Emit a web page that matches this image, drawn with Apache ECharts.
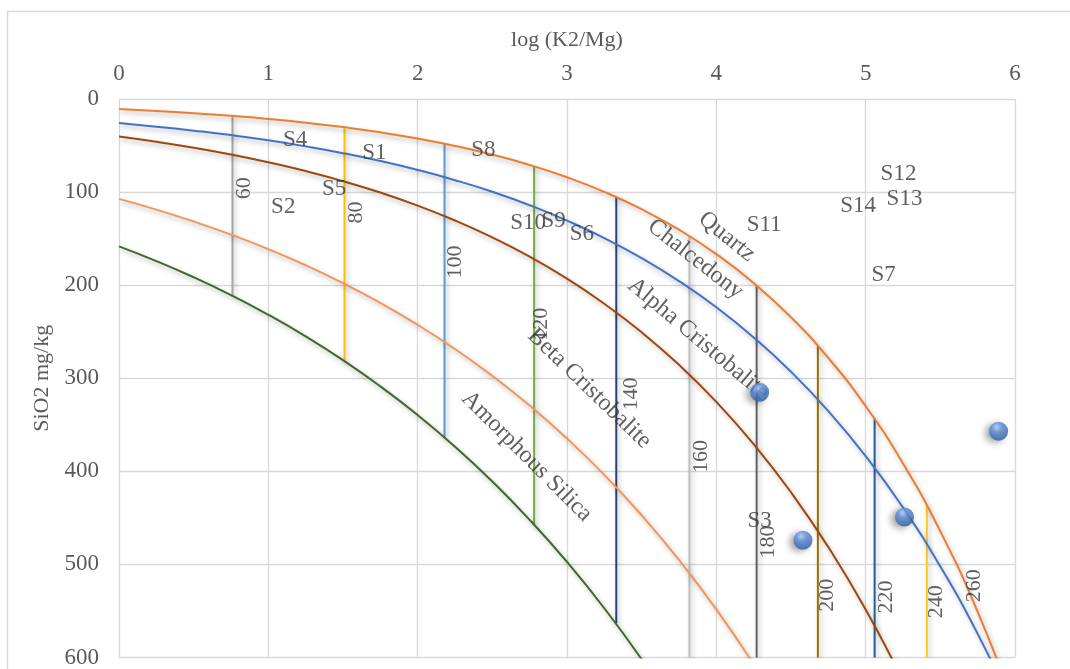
<!DOCTYPE html>
<html>
<head>
<meta charset="utf-8">
<title>SiO2 - K2/Mg</title>
<script src="https://cdn.jsdelivr.net/npm/echarts/dist/echarts.min.js"></script>
<style>
	html, body { margin: 0; padding: 0; background: #fff; }
	#main { width: 1070px; height: 669px; }
</style>
</head>
<body>
<div id="main"></div>
<script>
	// x steps log(K2/Mg) for the silica curves
	var xSteps = [ 0, 0.25, 0.5, 0.75, 1, 1.25, 1.5, 1.75, 2, 2.25, 2.5, 2.75, 3, 3.25, 3.5, 3.75, 4, 4.25, 4.5, 4.75, 5, 5.25, 5.5, 5.75, 6 ];
	// SiO2 mg/kg
	var quartzY = [ 10.8, 12.8, 15.2, 18.1, 21.4, 25.4, 30.2, 35.8, 42.5, 50.4, 59.8, 70.9, 84.1, 99.8, 118.4, 140.4,
			166.6, 197.7, 234.5, 278.2, 330.0, 391.5, 464.5, 551.0, 653.7 ];
	var chalcedonyY = [ 25.9, 29.7, 34.0, 38.8, 44.4, 50.9, 58.2, 66.6, 76.2, 87.2, 99.7, 114.1, 130.6, 149.4, 170.9,
			195.6, 223.8, 256.1, 293.0, 335.3, 383.6, 438.9, 502.2, 574.6, 657.5 ];
	var alphaCristY = [ 40.3, 45.9, 52.3, 59.6, 68.0, 77.4, 88.2, 100.5, 114.5, 130.5, 148.7, 169.4, 193.0, 220.0,
			250.6, 285.6, 325.4, 370.8, 422.5, 481.4, 548.5, 625.0 ];
	var betaCristY = [ 107.3, 118.8, 131.6, 145.7, 161.3, 178.6, 197.8, 219.0, 242.6, 268.6, 297.4, 329.3, 364.7,
			403.8, 447.2, 495.1, 548.3, 607.2 ];
	var amorphousY = [ 158.3, 174.1, 191.5, 210.7, 231.8, 255.0, 280.5, 308.7, 339.5, 373.5, 410.9, 452.1, 497.3,
			547.1, 601.9 ];

	var curveNames = [ 'Quartz', 'Chalcedony', 'Alpha Cristobalite', 'Beta Cristobalite', 'Amorphous Silica' ];
	var curveLabelX = [ 4.07, 3.86, 3.88, 3.15, 2.73 ];
	var curveLabelY = [ 148, 172, 258, 311, 384 ];

	// isotherms (deg C)
	var isoTemps = [ '60', '80', '100', '120', '140', '160', '180', '200', '220', '240', '260' ];
	var isoX = [ 0.76, 1.51, 2.18, 2.78, 3.33, 3.82, 4.27, 4.68, 5.06, 5.41, 5.73 ];
	var isoTop = [ 18, 30, 48, 72, 105, 147, 200, 265, 343, 436, 543 ];
	var isoBottom = [ 212, 282, 364, 458, 563, 600, 600, 600, 600, 600, null ];
	var isoLabelX = [ 0.84, 1.59, 2.25, 2.83, 3.43, 3.90, 4.35, 4.74, 5.14, 5.47, 5.73 ];
	var isoLabelY = [ 96, 122, 175, 242, 317, 384, 476, 533, 535, 540, 523 ];

	// samples
	var sampleNames = [ 'S1', 'S2', 'S3', 'S4', 'S5', 'S6', 'S7', 'S8', 'S9', 'S10', 'S11', 'S12', 'S13', 'S14' ];
	var sampleX = [ 1.71, 1.10, 4.29, 1.18, 1.44, 3.10, 5.12, 2.44, 2.91, 2.74, 4.32, 5.22, 5.26, 4.95 ];
	var sampleY = [ 58, 116, 453, 44, 97, 145, 189, 55, 131, 133, 135, 80, 107, 115 ];

	// plotted points
	var pointX = [ 4.29, 4.58, 5.26, 5.89 ];
	var pointY = [ 315, 474, 449, 357 ];

	var serifFont = "'Liberation Serif', 'Times New Roman', serif";
	var textColor = '#383838';
	var curveColors = [ '#ED7D31', '#4472C4', '#9E480E', '#F1975A', '#43682B' ];
	var curveRotate = [ -39, -38, -40, -44, -45 ];
	var isoColors = [ '#A5A5A5', '#FFC000', '#5B9BD5', '#70AD47', '#264478', '#BFBFBF', '#636363', '#997300', '#255E91', '#FFC926', '#ED7D31' ];

	function toPairs(xs, ys) {
		var arr = [];
		for ( var i = 0; i < ys.length; i++) {
			arr.push([ xs[i], ys[i] ]);
		}
		return arr;
	}

	// 只放文字的散点系列
	function textSeries(items, fontSize, rotate, z) {
		return {
			type : 'scatter',
			symbolSize : 1,
			itemStyle : { color : 'rgba(0,0,0,0)' },
			label : {
				show : true,
				position : 'inside',
				rotate : rotate,
				color : textColor,
				fontFamily : serifFont,
				fontSize : fontSize,
				formatter : function(p) { return p.name; }
			},
			data : items,
			z : z
		};
	}

	var myChart = echarts.init(document.getElementById('main'));

	var series = [];
	var curveData = [ quartzY, chalcedonyY, alphaCristY, betaCristY, amorphousY ];
	for ( var c = 0; c < curveData.length; c++) {
		series.push({
			name : curveNames[c],
			type : 'line',
			smooth : true,
			showSymbol : false,
			data : toPairs(xSteps, curveData[c]),
			lineStyle : {
				color : curveColors[c],
				width : 2,
				shadowColor : 'rgba(0,0,0,0.3)',
				shadowBlur : 5,
				shadowOffsetX : 2,
				shadowOffsetY : 3
			},
			z : 3
		});
	}

	// vertical isotherm lines
	for ( var i = 0; i < isoTemps.length; i++) {
		if (isoBottom[i] == null) {
			continue;
		}
		series.push({
			name : isoTemps[i],
			type : 'line',
			showSymbol : false,
			data : [ [ isoX[i], isoTop[i] ], [ isoX[i], isoBottom[i] ] ],
			lineStyle : {
				color : isoColors[i],
				width : 2,
				shadowColor : 'rgba(0,0,0,0.25)',
				shadowBlur : 5,
				shadowOffsetX : 2,
				shadowOffsetY : 2
			},
			z : 2
		});
	}

	// isotherm labels
	series.push(textSeries((function() {
		var a = [];
		for ( var j = 0; j < isoTemps.length; j++) {
			a.push({ name : isoTemps[j], value : [ isoLabelX[j], isoLabelY[j] ] });
		}
		return a;
	})(), 22, 90, 5));

	// curve names along the curves
	series.push(textSeries((function() {
		var a = [];
		for ( var j = 0; j < curveNames.length; j++) {
			a.push({
				name : curveNames[j],
				value : [ curveLabelX[j], curveLabelY[j] ],
				label : { rotate : curveRotate[j] }
			});
		}
		return a;
	})(), 24, 0, 5));

	// sample names
	series.push(textSeries((function() {
		var a = [];
		for ( var j = 0; j < sampleNames.length; j++) {
			a.push({ name : sampleNames[j], value : [ sampleX[j], sampleY[j] ] });
		}
		return a;
	})(), 23, 0, 6));

	// blue balls
	series.push({
		type : 'scatter',
		symbol : 'circle',
		symbolSize : 19,
		data : toPairs(pointX, pointY),
		itemStyle : {
			color : new echarts.graphic.RadialGradient(0.4, 0.3, 0.75, [
				{ offset : 0, color : '#b8d0f5' },
				{ offset : 0.35, color : '#5b8fdc' },
				{ offset : 1, color : '#2a5699' }
			]),
			shadowColor : 'rgba(0,0,0,0.45)',
			shadowBlur : 7,
			shadowOffsetX : -4,
			shadowOffsetY : 2
		},
		z : 7
	});

	var option = {
		animation : false,
		backgroundColor : '#fff',
		graphic : [ {
			type : 'rect',
			shape : { x : 7.5, y : 11.5, width : 1100, height : 700 },
			style : { fill : 'none', stroke : '#D9D9D9', lineWidth : 1.5 },
			silent : true
		} ],
		grid : {
			left : 119,
			top : 99,
			right : 55,
			bottom : 10
		},
		xAxis : {
			type : 'value',
			position : 'top',
			min : 0,
			max : 6,
			interval : 1,
			name : 'log (K2/Mg)',
			nameLocation : 'middle',
			nameGap : 48,
			nameTextStyle : { color : '#595959', fontFamily : serifFont, fontSize : 22 },
			axisLine : { show : false },
			axisTick : { show : false },
			axisLabel : { color : '#595959', fontFamily : serifFont, fontSize : 23, margin : 14 },
			splitLine : { lineStyle : { color : '#D9D9D9', width : 1.3 } }
		},
		yAxis : {
			type : 'value',
			inverse : true,
			min : 0,
			max : 600,
			interval : 100,
			name : 'SiO2 mg/kg',
			nameLocation : 'middle',
			nameRotate : 90,
			nameGap : 64,
			nameTextStyle : { color : '#595959', fontFamily : serifFont, fontSize : 22 },
			axisLine : { show : false },
			axisTick : { show : false },
			axisLabel : { color : '#595959', fontFamily : serifFont, fontSize : 23, margin : 20 },
			splitLine : { lineStyle : { color : '#D9D9D9', width : 1.3 } }
		},
		series : series
	};
	myChart.setOption(option, true);
</script>
</body>
</html>
